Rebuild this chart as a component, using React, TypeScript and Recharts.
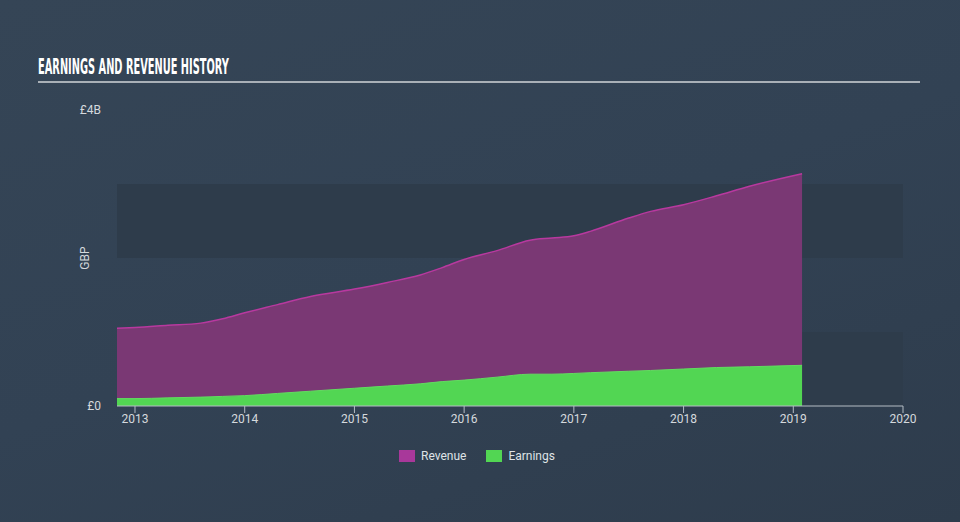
import React from "react";
import { ComposedChart, Area, XAxis, YAxis, ReferenceArea, Label } from "recharts";

const years = [2012.836, 2013.0, 2013.3, 2013.6, 2013.8, 2014.0, 2014.3, 2014.6, 2015.0, 2015.3, 2015.6, 2015.8, 2016.0, 2016.3, 2016.6, 2016.8, 2017.0, 2017.15, 2017.5, 2017.7, 2018.0, 2018.3, 2018.6, 2019.08];
const revenue = [1.05, 1.06, 1.09, 1.12, 1.18, 1.26, 1.37, 1.48, 1.58, 1.67, 1.77, 1.87, 1.98, 2.1, 2.24, 2.27, 2.3, 2.36, 2.54, 2.63, 2.72, 2.84, 2.97, 3.14];
const earnings = [0.1, 0.1, 0.11, 0.12, 0.13, 0.14, 0.17, 0.2, 0.24, 0.27, 0.3, 0.33, 0.35, 0.39, 0.43, 0.43, 0.44, 0.45, 0.47, 0.48, 0.5, 0.52, 0.53, 0.55];
const xTicks = [2013, 2014, 2015, 2016, 2017, 2018, 2019, 2020];
const yTicks = [0, 4];
const yTickLabels: Record<number, string> = { 0: "£0", 4: "£4B" };

const data = years.map((x, i) => ({ x, revenue: revenue[i], earnings: earnings[i] }));

const font = "Roboto, 'Open Sans', sans-serif";

export default function App() {
  return (
    <div
      style={{
        position: "fixed",
        left: 0,
        top: 0,
        width: 960,
        height: 522,
        background: "linear-gradient(160deg, #354556 0%, #324254 50%, #2e3c4c 100%)",
        overflow: "hidden",
        fontFamily: font,
      }}
    >
      <div
        style={{
          position: "absolute",
          left: 38,
          top: 55,
          fontFamily: "'Liberation Sans Narrow', 'DejaVu Sans Condensed', sans-serif",
          fontWeight: 700,
          fontSize: 21,
          lineHeight: "24px",
          color: "#ffffff",
          whiteSpace: "nowrap",
          transform: "scaleX(0.52)",
          transformOrigin: "left",
        }}
      >
        EARNINGS AND REVENUE HISTORY
      </div>
      <div style={{ position: "absolute", left: 38, top: 81, width: 882, height: 2, background: "#a9b0b7" }} />
      <div style={{ position: "absolute", left: 0, top: 0 }}>
        <ComposedChart width={960} height={522} data={data} margin={{ top: 110, right: 57, bottom: 86, left: 0 }}>
          <ReferenceArea y1={0} y2={1} x1={2012.836} x2={2020} fill="#2e3c4b" fillOpacity={1} stroke="none" ifOverflow="visible" />
          <ReferenceArea y1={2} y2={3} x1={2012.836} x2={2020} fill="#2e3c4b" fillOpacity={1} stroke="none" ifOverflow="visible" />
          <XAxis
            dataKey="x"
            type="number"
            domain={[2012.836, 2020]}
            ticks={xTicks}
            allowDataOverflow
            height={30}
            stroke="#b4bcc4"
            tick={{ fill: "#d5d9dd", fontSize: 12, fontFamily: font }}
            tickSize={7}
            tickMargin={1}
            tickLine={{ stroke: "#b4bcc4" }}
            axisLine={{ stroke: "#b4bcc4" }}
          />
          <YAxis
            type="number"
            domain={[0, 4]}
            ticks={yTicks}
            width={117}
            axisLine={false}
            tickLine={false}
            tickSize={0}
            tickMargin={16}
            tickFormatter={(v: number) => yTickLabels[v] ?? ""}
            tick={{ fill: "#d5d9dd", fontSize: 12, fontFamily: font }}
          >
            <Label value="GBP" angle={-90} position="insideLeft" offset={85} style={{ fill: "#d5d9dd", fontSize: 12, fontFamily: font, textAnchor: "middle" }} />
          </YAxis>
          <Area
            type="monotone"
            dataKey="revenue"
            stroke="#b8399f"
            strokeWidth={1.5}
            fill="#7a3874"
            fillOpacity={1}
            isAnimationActive={false}
            dot={false}
            activeDot={false}
          />
          <Area
            type="monotone"
            dataKey="earnings"
            stroke="#62dc60"
            strokeWidth={1}
            fill="#52d653"
            fillOpacity={1}
            isAnimationActive={false}
            dot={false}
            activeDot={false}
          />
        </ComposedChart>
      </div>
      <div
        style={{
          position: "absolute",
          left: 399,
          top: 449,
          display: "flex",
          alignItems: "center",
          fontSize: 12,
          color: "#dfe3e6",
          fontFamily: font,
        }}
      >
        <span style={{ display: "inline-block", width: 16, height: 12, background: "#a8389a", marginRight: 6 }} />
        <span style={{ marginRight: 20 }}>Revenue</span>
        <span style={{ display: "inline-block", width: 16, height: 12, background: "#52d653", marginRight: 6 }} />
        <span>Earnings</span>
      </div>
    </div>
  );
}
